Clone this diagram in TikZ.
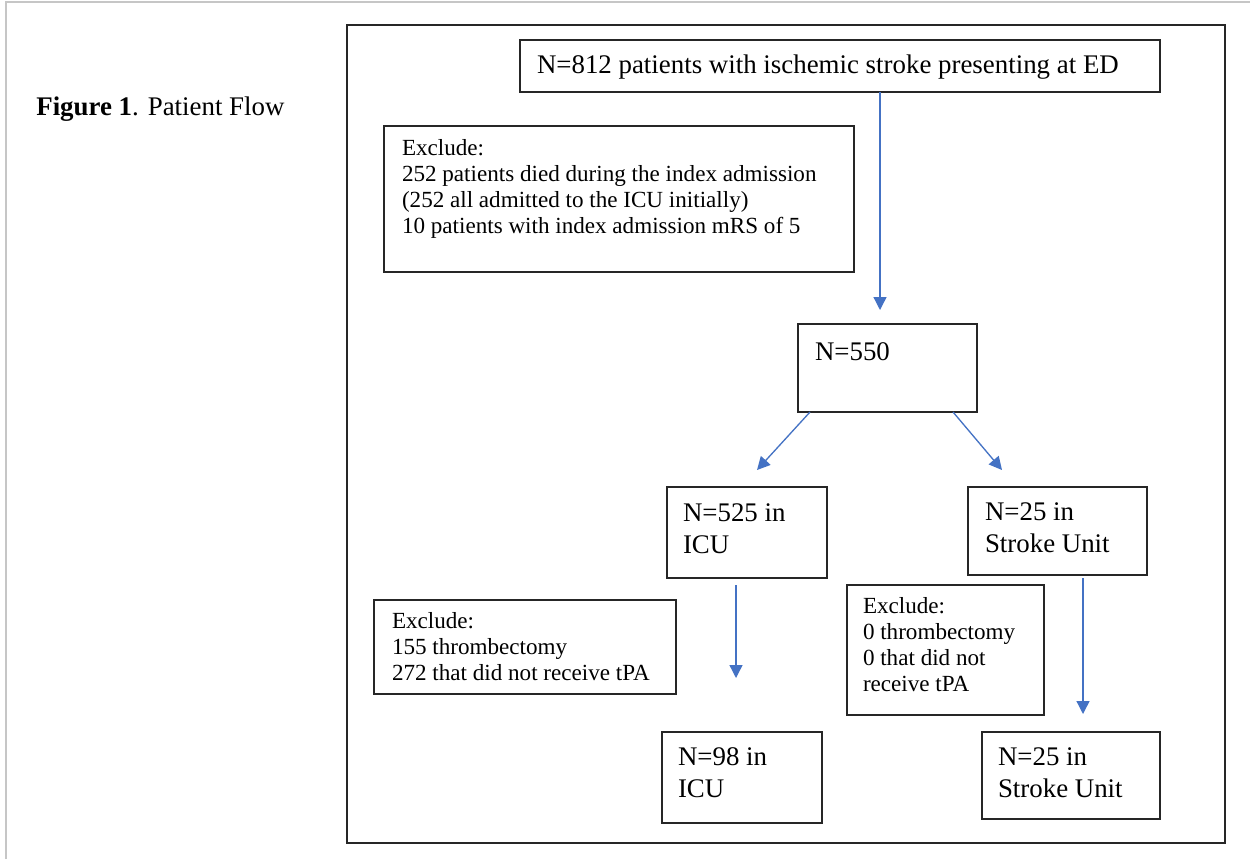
\documentclass[tikz,border=0pt]{standalone}
\usepackage{fontspec}
\setmainfont{Liberation Serif}
\usetikzlibrary{arrows.meta}
\definecolor{arrowblue}{HTML}{4472C4}
\newdimen\pxu \pxu=0.02cm
\newcommand{\mainf}{\fontsize{15.3}{18.7}\selectfont}
\newcommand{\exf}{\fontsize{13.15}{14.8}\selectfont}
\newcommand{\bxt}[5]{\parbox[t][#2\pxu][t]{#1\pxu}{\leftskip=#3\pxu\relax\rule{0pt}{#4\pxu}#5}}
\tikzset{
  box/.style={draw=black!85, line width=0.9pt, inner sep=0pt, outer sep=0pt, anchor=north west},
  mainbox/.style={box, font=\mainf},
  exbox/.style={box, font=\exf},
  flow/.style={draw=arrowblue, line width=0.75pt, -{Triangle[length=0.26cm,width=0.26cm]}},
}
\begin{document}
\begin{tikzpicture}[x=0.02cm, y=-0.02cm]
\useasboundingbox (0,0) rectangle (1250,859);
\fill[white] (0,0) rectangle (1250,859);
\draw[gray!45, line width=0.6pt] (6,859) -- (6,2) -- (1250,2);

\node[anchor=base west, inner sep=0pt, font=\mainf] (title) at (36,115) {\textbf{Figure 1}. Patient Flow};

\node[box, minimum width=17.56cm, minimum height=16.36cm] (frame) at (347,25) {};

\node[mainbox] (start) at (520,40) {\bxt{640}{52}{17}{33}{N=812 patients with ischemic stroke presenting at ED}};
\node[exbox] (ex1) at (384,126) {\bxt{470}{146}{18}{29}{Exclude:\\252 patients died during the index admission\\(252 all admitted to the ICU initially)\\10 patients with index admission mRS of 5}};
\node[mainbox] (n550) at (798,324) {\bxt{179}{88}{17}{36}{N=550}};
\node[mainbox] (icu) at (667,487) {\bxt{160}{91}{16}{34}{N=525 in\\ICU}};
\node[mainbox] (su) at (968,487) {\bxt{179}{88}{17}{33}{N=25 in\\Stroke Unit}};
\node[exbox] (ex2) at (374,600) {\bxt{302}{94}{18}{28}{Exclude:\\155 thrombectomy\\272 that did not receive tPA}};
\node[exbox] (ex3) at (847,585) {\bxt{197}{130}{16}{28}{Exclude:\\0 thrombectomy\\0 that did not\\receive tPA}};
\node[mainbox] (icu2) at (662,732) {\bxt{160}{91}{16}{33}{N=98 in\\ICU}};
\node[mainbox] (su2) at (982,732) {\bxt{178}{87}{16}{33}{N=25 in\\Stroke Unit}};

\coordinate (a1e) at (880,310);
\coordinate (a2e) at (757,470);
\coordinate (a3e) at (1002,470);
\coordinate (a4s) at (736,585);
\coordinate (a4e) at (736,678);
\coordinate (a5s) at (1083,578);
\coordinate (a5e) at (1083,714);

\draw[flow] (a1e |- start.south) -- (a1e);
\draw[flow] ([xshift=0.24cm]n550.south west) -- (a2e);
\draw[flow] ([xshift=-0.48cm]n550.south east) -- (a3e);
\draw[flow] (a4s) -- (a4e);
\draw[flow] (a5s) -- (a5e);
\end{tikzpicture}
\end{document}
